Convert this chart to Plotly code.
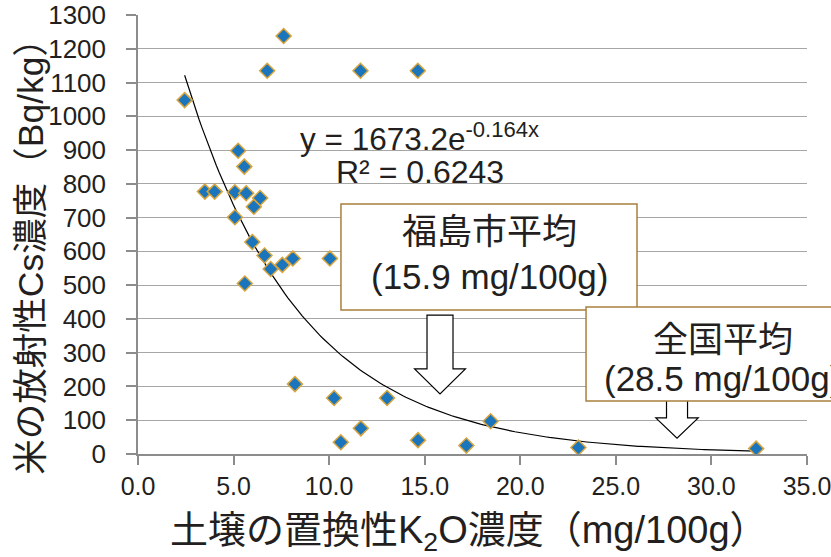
import numpy as np
import plotly.graph_objects as go

# ---- data ----
k2o = [2.44, 3.50, 4.01, 5.07, 5.07, 5.24, 5.56, 5.66, 6.06, 6.39, 5.98, 6.62,
       6.94, 7.55, 8.10, 5.59, 6.76, 7.62, 11.64, 14.64, 10.04, 8.21, 10.26,
       13.03, 10.61, 11.66, 14.65, 17.18, 18.45, 23.04, 32.34]
cs = [1048, 777, 777, 775, 701, 898, 851, 772, 732, 758, 628, 588,
      548, 560, 579, 505, 1135, 1238, 1135, 1135, 579, 207, 166,
      166, 35, 76, 41, 25, 97, 19, 16]

# exponential trendline shown on the chart: y = 1673.2 e^(-0.164x)
trend_a = 1673.2
trend_b = -0.164
eq_text = "y = 1673.2e<sup>-0.164x</sup>"
r2_text = "R² = 0.6243"

x_ticks = [0, 5, 10, 15, 20, 25, 30, 35]
y_ticks = list(range(0, 1301, 100))

box1_lines = ["福島市平均", "(15.9 mg/100g)"]
box2_lines = ["全国平均", "(28.5 mg/100g)"]
arrow_x = [15.8, 28.2]

x_title = "土壌の置換性K<sub>2</sub>O濃度（mg/100g）"
y_title = "米の放射性Cs濃度（Bq/kg）"

# ---- figure ----
LAT = "Liberation Sans, Arial, Noto Sans CJK JP, sans-serif"
NARROW = "Liberation Sans Narrow, Arial Narrow, Liberation Sans, Noto Sans CJK JP, sans-serif"
TXT = "#231F20"
BORDER = "#A8803E"

fig = go.Figure()

tx = np.linspace(min(k2o), max(k2o), 200)
fig.add_trace(go.Scatter(x=tx, y=trend_a * np.exp(trend_b * tx), mode="lines",
                         line=dict(color="#000000", width=1.2),
                         hoverinfo="skip", showlegend=False))
fig.add_trace(go.Scatter(x=k2o, y=cs, mode="markers",
                         marker=dict(symbol="diamond", size=11.5, color="#1A75BC",
                                     line=dict(color="#D9A43C", width=1.5)),
                         showlegend=False))

# hollow block arrows
def arrow_path(xc, top, neck, tip, sw, hw):
    return (f"M {xc - sw} {top} L {xc + sw} {top} L {xc + sw} {neck} "
            f"L {xc + hw} {neck} L {xc} {tip} L {xc - hw} {neck} "
            f"L {xc - sw} {neck} Z")

fig.add_shape(type="path", xref="x", yref="y",
              path=arrow_path(arrow_x[0], 411, 252, 178, 0.68, 1.33),
              fillcolor="white", line=dict(color="#000000", width=1.2))
fig.add_shape(type="path", xref="x", yref="y",
              path=arrow_path(arrow_x[1], 172, 107, 47, 0.55, 1.11),
              fillcolor="white", line=dict(color="#000000", width=1.2))

# text boxes
fig.add_shape(type="rect", xref="paper", yref="paper", x0=0.3034, x1=0.7459,
              y0=0.328, y1=0.5695, fillcolor="white", layer="above",
              line=dict(color=BORDER, width=1.5))
fig.add_shape(type="rect", xref="paper", yref="paper", x0=0.6697, x1=1.06,
              y0=0.1207, y1=0.3349, fillcolor="white", layer="above",
              line=dict(color=BORDER, width=1.5))

annos = []
annos.append(dict(x=14.74, y=939, xref="x", yref="y", text=eq_text, showarrow=False,
                  font=dict(family=LAT, size=31.5, color=TXT)))
annos.append(dict(x=14.74, y=835, xref="x", yref="y", text=r2_text, showarrow=False,
                  font=dict(family=LAT, size=32, color=TXT)))
for txt, px, py in [(box1_lines[0], 0.5247, 0.5057), (box1_lines[1], 0.5247, 0.4032),
                    (box2_lines[0], 0.8744, 0.2597), (box2_lines[1], 0.8744, 0.1731)]:
    annos.append(dict(x=px, y=py, xref="paper", yref="paper", text=txt,
                      showarrow=False, xanchor="center", yanchor="middle",
                      font=dict(family=LAT, size=35, color=TXT)))
annos.append(dict(x=-0.16, y=0.47, xref="paper", yref="paper", text=y_title,
                  textangle=-90, showarrow=False, xanchor="center", yanchor="middle",
                  font=dict(family=LAT, size=35.5, color=TXT)))
annos.append(dict(x=0.495, y=-0.18, xref="paper", yref="paper", text=x_title,
                  showarrow=False, xanchor="center", yanchor="middle",
                  font=dict(family=NARROW, size=38, color=TXT)))

fig.update_layout(
    width=831, height=557,
    margin=dict(l=138, r=24, t=15, b=103),
    paper_bgcolor="white", plot_bgcolor="white",
    annotations=annos,
    xaxis=dict(range=[0, 35], tickvals=x_ticks, tickformat=".1f",
               automargin=False, ticklabeloverflow="allow",
               showgrid=False, zeroline=False, showline=True,
               linecolor="#8C8C8C", linewidth=1.5, ticks="outside",
               ticklen=9, tickwidth=1.5, tickcolor="#8C8C8C",
               ticklabelstandoff=0,
               tickfont=dict(family=NARROW, size=25, color=TXT)),
    yaxis=dict(range=[0, 1300], tickvals=y_ticks, showgrid=True,
               automargin=False, ticklabeloverflow="allow",
               gridcolor="#A6A6A6", gridwidth=1.3, zeroline=False,
               showline=True, linecolor="#8C8C8C", linewidth=1.5,
               ticks="outside", ticklen=10, tickwidth=1.5, tickcolor="#8C8C8C",
               ticklabelstandoff=15,
               tickfont=dict(family=LAT, size=26, color=TXT)),
)

fig.write_html("out.html", config={"displayModeBar": False},
               post_script="document.body.style.margin='0';")
